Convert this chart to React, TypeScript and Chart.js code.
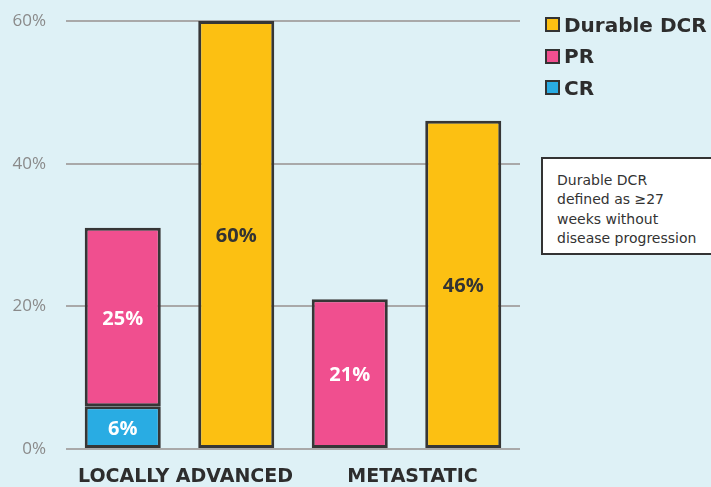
import React, { useEffect, useRef } from "react";
import { Chart, registerables } from "chart.js";

Chart.register(...registerables);

const categories = ["LOCALLY ADVANCED", "METASTATIC"];
const crValues: (number | null)[] = [6, null];
const prValues: (number | null)[] = [25, 21];
const dcrValues: (number | null)[] = [60, 46];
const yTicks = [0, 20, 40, 60];
const legendItems = [
  { label: "Durable DCR", color: "#fcc012" },
  { label: "PR", color: "#f04f8f" },
  { label: "CR", color: "#29ace3" },
];
const noteLines = ["Durable DCR", "defined as \u226527", "weeks without", "disease progression"];

const BG = "#def1f6";

const labelPlugin = {
  id: "barLabels",
  afterDatasetsDraw(chart: any) {
    const ctx = chart.ctx;
    ctx.save();
    ctx.font = "bold 20px 'Open Sans'";
    ctx.textAlign = "center";
    ctx.textBaseline = "middle";
    chart.data.datasets.forEach((ds: any, di: number) => {
      const meta = chart.getDatasetMeta(di);
      meta.data.forEach((el: any, i: number) => {
        const v = ds.data[i];
        if (v === null || v === undefined) return;
        ctx.fillStyle = ds.labelColor;
        ctx.fillText(v + "%", el.x, (el.y + el.base) / 2 + 2);
      });
    });
    ctx.restore();
  },
};

export default function App() {
  const ref = useRef<HTMLCanvasElement | null>(null);
  useEffect(() => {
    if (!ref.current) return;
    const common = {
      borderColor: "#363636",
      borderWidth: 3,
      borderSkipped: false,
      barPercentage: 0.67,
      categoryPercentage: 1.0,
    };
    const chart = new Chart(ref.current, {
      type: "bar",
      data: {
        labels: categories,
        datasets: [
          { ...common, label: "CR", data: crValues, backgroundColor: "#29ace3", stack: "resp", labelColor: "#ffffff" } as any,
          { ...common, label: "PR", data: prValues, backgroundColor: "#f04f8f", stack: "resp", labelColor: "#ffffff" } as any,
          { ...common, label: "Durable DCR", data: dcrValues, backgroundColor: "#fcc012", stack: "dcr", labelColor: "#333333" } as any,
        ],
      },
      options: {
        animation: false,
        responsive: false,
        maintainAspectRatio: false,
        layout: { padding: { top: 21, right: 191, left: 0, bottom: 0 } },
        plugins: { legend: { display: false }, tooltip: { enabled: false } },
        scales: {
          x: {
            stacked: true,
            grid: { display: false },
            border: { display: false },
            ticks: {
              color: "#2d2d2d",
              font: { family: "'DejaVu Sans'", weight: "bold", size: 19 },
              padding: 9,
              labelOffset: 6,
              maxRotation: 0,
            },
            afterFit(scale: any) {
              scale.height = 38;
              scale.paddingLeft = 0;
              scale.paddingRight = 0;
            },
          },
          y: {
            stacked: true,
            min: 0,
            max: 60,
            afterBuildTicks(scale: any) {
              scale.ticks = yTicks.map((v) => ({ value: v }));
            },
            grid: { color: "#a9a9a9", lineWidth: 2, drawTicks: false },
            border: { display: false },
            ticks: {
              color: "#8a8a8a",
              font: { family: "'Open Sans'", size: 17 },
              padding: 20,
              callback: (v: any) => v + "%",
            },
            afterFit(scale: any) {
              scale.width = 66;
              scale.paddingTop = 0;
              scale.paddingBottom = 0;
            },
          },
        },
      } as any,
      plugins: [labelPlugin],
    });
    return () => chart.destroy();
  }, []);

  return (
    <div style={{ position: "fixed", left: 0, top: 0, width: 711, height: 487, background: BG, overflow: "hidden" }}>
      <canvas ref={ref} width={711} height={487} style={{ position: "absolute", left: 0, top: 0, width: 711, height: 487 }} />
      <div style={{ position: "absolute", left: 545, top: 9 }}>
        {legendItems.map((it) => (
          <div key={it.label} style={{ display: "flex", alignItems: "center", height: 31.5 }}>
            <div style={{ width: 11, height: 11, border: "2.5px solid #333", background: it.color, marginRight: 4 }} />
            <span style={{ fontFamily: "'DejaVu Sans'", fontWeight: "bold", fontSize: 20, color: "#2d2d2d", lineHeight: "24px" }}>{it.label}</span>
          </div>
        ))}
      </div>
      <div
        style={{
          position: "absolute",
          left: 541,
          top: 157,
          width: 190,
          height: 98,
          border: "2px solid #333",
          background: "#ffffff",
          paddingTop: 12,
          paddingLeft: 14,
          boxSizing: "border-box",
          fontFamily: "'DejaVu Sans'",
          fontSize: 14,
          lineHeight: "19.4px",
          color: "#333",
        }}
      >
        {noteLines.map((l) => (
          <div key={l} style={{ whiteSpace: "nowrap" }}>{l}</div>
        ))}
      </div>
    </div>
  );
}
